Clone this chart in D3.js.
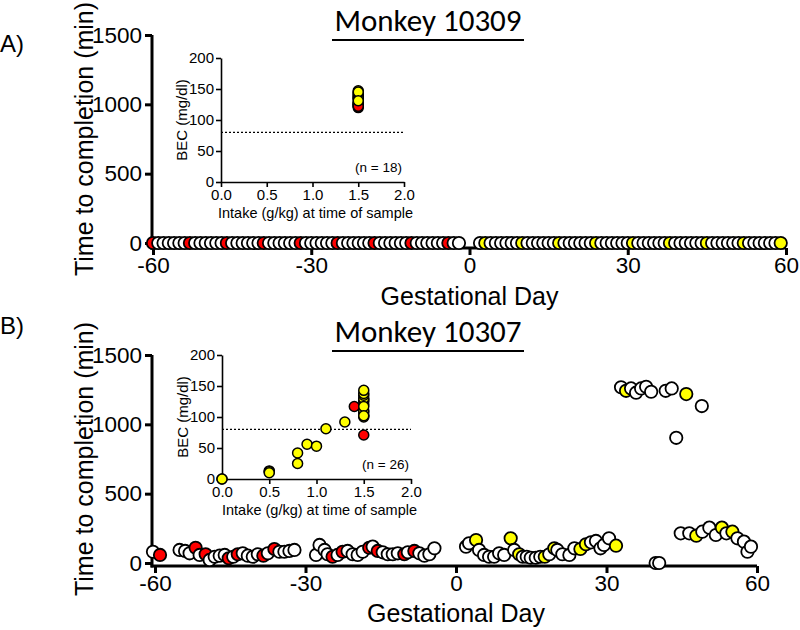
<!DOCTYPE html>
<html><head><meta charset="utf-8">
<script src="https://cdn.jsdelivr.net/npm/d3@7"></script>
<style>body{margin:0;background:#fff}svg{display:block}</style>
</head><body>
<script>
// ---------- DATA ----------
const xTicks = [-60, -30, 0, 30, 60];
const yTicks = [0, 500, 1000, 1500];
const insetXTicks = [0.0, 0.5, 1.0, 1.5, 2.0];
const insetYTicks = [0, 50, 100, 150, 200];
const colorMap = {w: "#ffffff", r: "#ff0000", y: "#ffff00"};

// Monkey 10309: gestational day, minutes, colour code
const m10309Days = [-60,-59,-58,-57,-56,-55,-54,-53,-52,-51,-50,-49,-48,-47,-46,-45,-44,-43,-42,-41,-40,-39,-38,-37,-36,-35,-34,-33,-32,-31,-30,-29,-28,-27,-26,-25,-24,-23,-22,-21,-20,-19,-18,-17,-16,-15,-14,-13,-12,-11,-10,-9,-8,-7,-6,-5,-4,-3,-2,
  2,3,4,5,6,7,8,9,10,11,12,13,14,15,16,17,18,19,20,21,22,23,24,25,26,27,28,29,30,31,32,33,34,35,36,37,38,39,40,41,42,43,44,45,46,47,48,49,50,51,52,53,54,55,56,57,58,59];
const m10309Min = [0,0,0,0,0,0,0,0,0,0,0,0,0,0,0,0,0,0,0,0,0,0,0,0,0,0,0,0,0,0,0,0,0,0,0,0,0,0,0,0,0,0,0,0,0,0,0,0,0,0,0,0,0,0,0,0,0,0,0,
  0,0,0,0,0,0,0,0,0,0,0,0,0,0,0,0,0,0,0,0,0,0,0,0,0,0,0,0,0,0,0,0,0,0,0,0,0,0,0,0,0,0,0,0,0,0,0,0,0,0,0,0,0,0,0,0,0,0];
const m10309Col = "rwwwwwwrwwwwwwrwwwwwwrwwwwwwrwwwwwwrwwwwwwrwwwwwwrwwwwwwrww" +
                  "wywwwwwwywwwwwwywwwwwwywwwwwwywwwwwwywwwwwwywwwwwwywwwwwwy";

// Monkey 10307
const m10307Days = [-60.4,-59,-55.1,-54,-53.1,-51.9,-51.1,-49.9,-49.1,-48.1,-47.1,-46.1,-45.3,-44.4,-43.5,-42.5,-41.5,-40.5,-39.5,-38.4,-37.5,-36.2,-35.2,-34.2,-33.2,-32.2,
  -27.9,-27.2,-26.2,-25.6,-24.6,-23.6,-22.6,-21.6,-20.6,-19.6,-18.6,-17.3,-16.6,-15.6,-14.6,-13.6,-12.6,-11.6,-10.3,-9.6,-8.3,-7.3,-6.3,-5.3,-4.3,
  2,2.6,4,4.6,5.6,6.6,7.6,8.6,9.6,10.9,11.6,12.6,13.3,14.1,14.9,15.9,16.8,17.7,18.6,19.6,20.2,21.2,22.6,23.6,24.8,25.9,26.9,27.9,28.8,29.5,30.5,31.9,
  32.9,33.9,34.9,35.9,36.9,37.9,38.9,39.8,40.5,41.8,43,43.9,44.8,45.9,46.5,47.9,49,49.1,50.5,51.8,53,53.9,55.1,56.1,57.4,58.1,58.8];
const m10307Min = [81,58,94,87,70,110,58,63,22,45,53,58,34,45,63,70,53,45,63,53,70,101,81,81,87,94,
  58,130,94,63,45,58,81,87,63,58,81,110,118,87,77,63,63,70,63,77,87,70,53,63,106,
  118,142,166,94,58,45,45,70,58,178,94,63,45,45,38,38,45,45,63,106,94,63,58,106,101,135,149,159,106,130,178,125,
  1267,1242,1259,1228,1259,1271,1235,0,0,1242,1259,903,214,1218,214,197,1132,226,255,202,255,214,226,178,154,81,118];
const m10307Col = "wrwwwrwrwwwwrwrwwwwrwrwwww" +
                  "wwwwrwrwwwwrwrwwwwrwrwwww" +
                  "wwywwwwwwywywwwwwywywwwwyywwwwwy" +
                  "wywwwwwwwwwwwywywwwwywywwwww";

// Insets: BEC (mg/dl) vs intake (g/kg)
const inA_x = [1.5,1.5,1.5,1.5,1.5,1.5,1.5,1.5,1.5,1.5,1.5,1.5,1.5,1.5,1.5,1.5,1.5,1.5];
const inA_y = [120,122,124,126,128,134,136,138,140,142,125,135,147,144,128,122,145,131];
const inA_c = "rrrryrryyyryyyyryy";
const inB_x = [0.0,0.0,0.5,0.5,0.5,0.8,0.8,0.9,1.0,1.1,1.3,1.4,1.5,1.5,1.5,1.5,1.5,1.5,1.5,1.5,1.5,1.5,1.5,1.5,1.5,1.5];
const inB_y = [0,0,13,12,10,42,25,56,53,81,92,117,71,100,103,108,110,120,125,128,130,135,138,117,102,143];
const inB_c = "yyyyyyyyyyyrryyyyrrryyyyyy";

// ---------- DRAW ----------
const W = 800, H = 630;
const svg = d3.select("body").append("svg").attr("width", W).attr("height", H);
const AX = "'Liberation Sans', Arial, sans-serif";
const TITLEF = "Carlito, Lato, 'Open Sans', sans-serif";

function mainPanel(cfg) {
  const g = svg.append("g");
  const x = d3.scaleLinear().domain([-60, 60]).range([cfg.x0, cfg.x1]);
  const y = d3.scaleLinear().domain([0, 1500]).range([cfg.y0, cfg.y1]);
  const ya = g.append("g").attr("transform", `translate(${cfg.yAxisX},0)`)
    .call(d3.axisLeft(y).tickValues(yTicks).tickSize(7).tickSizeOuter(0).tickPadding(3).tickFormat(d => String(d)));
  const xa = g.append("g").attr("transform", `translate(0,${cfg.xAxisY})`)
    .call(d3.axisBottom(x).tickValues(xTicks).tickSize(7).tickSizeOuter(0).tickPadding(2).tickFormat(d => String(d)));
  [ya, xa].forEach(a => {
    a.select(".domain").attr("stroke", "#000").attr("stroke-width", 3);
    a.selectAll(".tick line").attr("stroke", "#000").attr("stroke-width", 3);
    a.selectAll(".tick text").attr("font-family", AX).attr("font-size", 22.5).attr("fill", "#000");
  });
  xa.select(".domain").attr("d", `M${cfg.yAxisX - 1.5},0H${x(60)}`);
  ya.select(".domain").attr("d", `M0,${y(1500)}V${cfg.xAxisY + 1.5}`);
  g.append("text").attr("transform", `translate(${cfg.yLabX},${(y(0) + y(1500)) / 2}) rotate(-90)`)
    .attr("text-anchor", "middle").attr("font-family", AX).attr("font-size", 25).text("Time to completion (min)");
  g.append("text").attr("x", x(0)).attr("y", cfg.xLabY).attr("text-anchor", "middle")
    .attr("font-family", AX).attr("font-size", 25).text("Gestational Day");
  g.append("text").attr("x", 0).attr("y", cfg.panelLabY).attr("font-family", AX).attr("font-size", 24).text(cfg.panelLab);
  g.append("text").attr("x", 428).attr("y", cfg.titleY).attr("text-anchor", "middle")
    .attr("font-family", TITLEF).attr("font-size", 31).text(cfg.title);
  g.append("line").attr("x1", 332).attr("x2", 524).attr("y1", cfg.titleY + 9).attr("y2", cfg.titleY + 9)
    .attr("stroke", "#000").attr("stroke-width", 2);
  const pts = cfg.days.map((d, i) => ({d, m: cfg.mins[i], c: cfg.cols[i]}));
  g.append("g").selectAll("circle").data(pts).join("circle")
    .attr("cx", p => x(p.d)).attr("cy", p => y(p.m)).attr("r", 6.2)
    .attr("fill", p => colorMap[p.c]).attr("stroke", "#000").attr("stroke-width", 1.8);
}

function inset(cfg) {
  const g = svg.append("g");
  const x = d3.scaleLinear().domain([0, 2]).range([cfg.x0, cfg.x1]);
  const y = d3.scaleLinear().domain([0, 200]).range([cfg.y0, cfg.y1]);
  const ya = g.append("g").attr("transform", `translate(${cfg.x0},0)`)
    .call(d3.axisLeft(y).tickValues(insetYTicks).tickSize(5).tickSizeOuter(0).tickPadding(2).tickFormat(d3.format("d")));
  const xa = g.append("g").attr("transform", `translate(0,${cfg.y0})`)
    .call(d3.axisBottom(x).tickValues(insetXTicks).tickSize(5).tickSizeOuter(0).tickPadding(2).tickFormat(d3.format(".1f")));
  [ya, xa].forEach(a => {
    a.select(".domain").attr("stroke", "#000").attr("stroke-width", 1.6);
    a.selectAll(".tick line").attr("stroke", "#000").attr("stroke-width", 1.6);
    a.selectAll(".tick text").attr("font-family", AX).attr("font-size", 15).attr("fill", "#000");
  });
  g.append("line").attr("x1", cfg.x0).attr("x2", x(2)).attr("y1", y(80)).attr("y2", y(80))
    .attr("stroke", "#000").attr("stroke-width", 1.2).attr("stroke-dasharray", "2,2");
  g.append("text").attr("transform", `translate(${cfg.x0 - 34},${(y(0) + y(200)) / 2}) rotate(-90)`)
    .attr("text-anchor", "middle").attr("font-family", AX).attr("font-size", 15).text("BEC (mg/dl)");
  g.append("text").attr("x", (cfg.x0 + cfg.x1) / 2 + 3).attr("y", cfg.y0 + 36).attr("text-anchor", "middle")
    .attr("font-family", AX).attr("font-size", 14.5).text("Intake (g/kg) at time of sample");
  g.append("text").attr("x", x(2) - 2).attr("y", y(0) - 10).attr("text-anchor", "end")
    .attr("font-family", AX).attr("font-size", 13.5).text(cfg.n);
  const pts = cfg.xs.map((v, i) => ({v, b: cfg.ys[i], c: cfg.cs[i]}));
  g.append("g").selectAll("circle").data(pts).join("circle")
    .attr("cx", p => x(p.v)).attr("cy", p => y(p.b)).attr("r", 5)
    .attr("fill", p => colorMap[p.c]).attr("stroke", "#000").attr("stroke-width", 1.5);
}

mainPanel({x0: 153, x1: 786, y0: 243, y1: 35, yAxisX: 152, xAxisY: 248, yLabX: 93, xLabY: 305,
  panelLab: "A)", panelLabY: 52, title: "Monkey 10309", titleY: 31,
  days: m10309Days, mins: m10309Min, cols: m10309Col});
mainPanel({x0: 155, x1: 757, y0: 563, y1: 355, yAxisX: 152, xAxisY: 566, yLabX: 93, xLabY: 622,
  panelLab: "B)", panelLabY: 334, title: "Monkey 10307", titleY: 342,
  days: m10307Days, mins: m10307Min, cols: m10307Col});
inset({x0: 221, x1: 404, y0: 182, y1: 58, n: "(n = 18)", xs: inA_x, ys: inA_y, cs: inA_c});
inset({x0: 222, x1: 411, y0: 479, y1: 355, n: "(n = 26)", xs: inB_x, ys: inB_y, cs: inB_c});
</script>
</body></html>
